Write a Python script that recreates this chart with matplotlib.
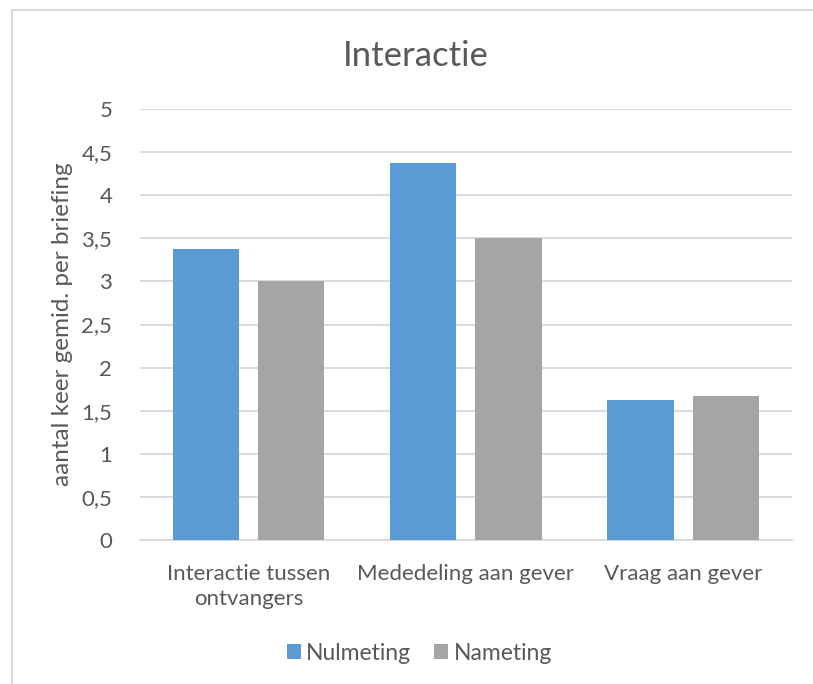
import matplotlib.pyplot as plt
from matplotlib.lines import Line2D
import numpy as np

plt.rcParams['font.family'] = ['Lato', 'DejaVu Sans']

categories = ['Interactie tussen\nontvangers', 'Mededeling aan gever', 'Vraag aan gever']
nulmeting = [3.375, 4.375, 1.625]
nameting = [3.0, 3.5, 1.667]
yticks = [0, 0.5, 1, 1.5, 2, 2.5, 3, 3.5, 4, 4.5, 5]
ytick_labels = ['0', '0,5', '1', '1,5', '2', '2,5', '3', '3,5', '4', '4,5', '5']

text_color = '#595959'
grid_color = '#d9d9d9'

fig = plt.figure(figsize=(8.13, 6.84), dpi=100)
ax = fig.add_axes([0.1722, 0.2105, 0.8018, 0.6301])

x = np.arange(len(categories))
width = 0.305
offset = 0.196
ax.bar(x - offset, nulmeting, width, color='#5b9bd5', label='Nulmeting', zorder=3)
ax.bar(x + offset, nameting, width, color='#a5a5a5', label='Nameting', zorder=3)

ax.set_xlim(-0.5, 2.5)
ax.set_ylim(0, 5)
ax.set_yticks(yticks)
ax.set_yticklabels(ytick_labels)
ax.set_xticks(x)
ax.set_xticklabels(categories, linespacing=1.35)
ax.tick_params(axis='both', length=0, labelsize=16, colors=text_color)
ax.tick_params(axis='x', pad=17)
ax.tick_params(axis='y', pad=20)
ax.grid(axis='y', color=grid_color, linewidth=1.3, zorder=0)
for side in ['top', 'right', 'left']:
    ax.spines[side].set_visible(False)
ax.spines['bottom'].set_color(grid_color)
ax.spines['bottom'].set_linewidth(1.3)

ax.set_ylabel('aantal keer gemid. per briefing', fontsize=17.5, color=text_color, labelpad=6)
fig.text(0.512, 0.918, 'Interactie', fontsize=25, color=text_color, ha='center', va='center')

fig.legend(loc='center', bbox_to_anchor=(0.516, 0.045), ncol=2, frameon=False,
           fontsize=16.5, labelcolor=text_color, handlelength=0.6, handleheight=0.6,
           handletextpad=0.25, columnspacing=1.0)

# chart frame
fig.add_artist(Line2D([12 / 813, 12 / 813], [0, 1 - 10 / 684], color=grid_color, lw=1.5))
fig.add_artist(Line2D([12 / 813, 1], [1 - 10 / 684, 1 - 10 / 684], color=grid_color, lw=1.5))

fig.savefig('out.png', dpi=100)
